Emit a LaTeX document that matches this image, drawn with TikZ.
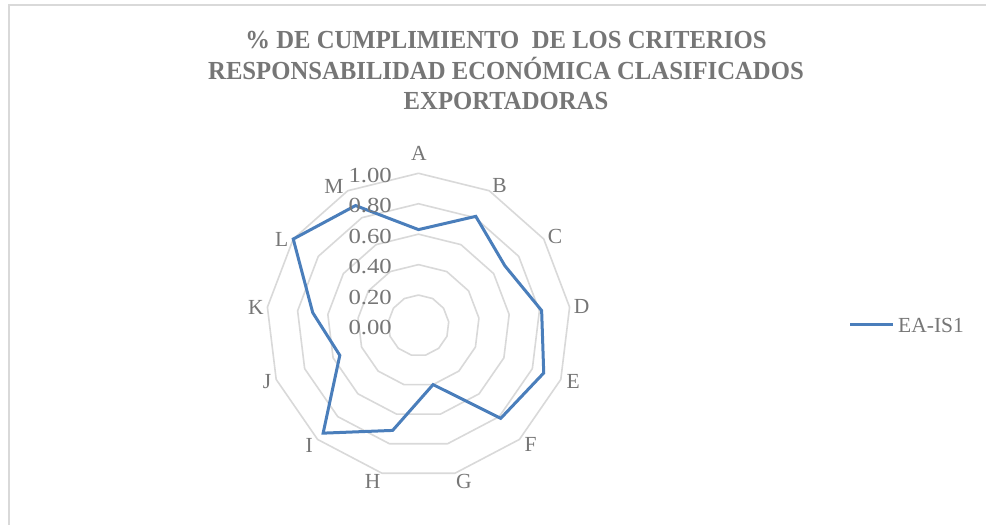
\documentclass[tikz,border=0pt]{standalone}
\usepackage{fontspec}
\setmainfont{Liberation Serif}
\newfontfamily\numfont[FakeStretch=1.15]{Liberation Serif}
\newfontfamily\titfont[FakeStretch=0.95]{Liberation Serif}
\definecolor{txtgray}{RGB}{118,118,118}
\definecolor{gridgray}{RGB}{217,217,217}
\definecolor{seriesblue}{RGB}{74,126,187}
\tikzset{
  gridline/.style={draw=gridgray, line width=1.6pt, line join=round},
  frameline/.style={draw=gridgray, line width=2pt},
  serieslin/.style={draw=seriesblue, line width=3pt, line join=miter},
  axlabel/.style={text=txtgray, inner sep=0pt, font=\fontsize{21.5}{26}\selectfont},
  ticklabel/.style={text=txtgray, inner sep=0pt, anchor=east, font=\numfont\fontsize{21.5}{26}\selectfont},
  titleline/.style={text=txtgray, inner sep=0pt, anchor=base, font=\titfont\fontsize{26}{31}\selectfont\bfseries},
}
\begin{document}
\begin{tikzpicture}[x=1pt,y=1pt]
\useasboundingbox (0,0) rectangle (986,525);
\fill[white] (0,0) rectangle (986,525);
% frame
\draw[frameline] (8.7,0) -- (8.7,520) -- (986,520);
% title
\node[titleline] (t1) at (506,476.7) {\% DE CUMPLIMIENTO\ \ DE LOS CRITERIOS};
\node[titleline] (t2) at (506,445.7) {RESPONSABILIDAD ECONÓMICA CLASIFICADOS};
\node[titleline] (t3) at (506,415) {EXPORTADORAS};
% radar grid
\begin{scope}[shift={(418.5,199.5)}]
  \foreach \v in {0.2,0.4,0.6,0.8,1.0} {
    \draw[gridline] (90:\v*152.2) \foreach \k in {1,...,12} { -- ({90-\k*360/13}:\v*152.2) } -- cycle;
  }
  % data
  \foreach \k/\val in {0/0.63,1/0.81,2/0.69,3/0.815,4/0.88,5/0.815,6/0.40,7/0.71,8/0.945,9/0.553,10/0.70,11/1.0,12/0.89} {
    \coordinate (p\k) at ({90-\k*360/13}:\val*152.2);
  }
  \draw[serieslin] (p0) -- (p1) -- (p2) -- (p3) -- (p4) -- (p5) -- (p6) -- (p7) -- (p8) -- (p9) -- (p10) -- (p11) -- (p12) -- cycle;
\end{scope}
% tick labels
\foreach \v/\t in {0/0.00,0.2/0.20,0.4/0.40,0.6/0.60,0.8/0.80,1.0/1.00} {
  \node[ticklabel] (tk\t) at (392,{197.5+\v*152.2}) {\t};
}
% axis labels
\node[axlabel] (lA) at (419,371.5) {A};
\node[axlabel] (lB) at (499.5,339.5) {B};
\node[axlabel] (lC) at (555,288.3) {C};
\node[axlabel] (lD) at (581.7,218.3) {D};
\node[axlabel] (lE) at (573.3,143.3) {E};
\node[axlabel] (lF) at (530.7,81) {F};
\node[axlabel] (lG) at (464,43.3) {G};
\node[axlabel] (lH) at (372.7,43.3) {H};
\node[axlabel] (lI) at (309.3,80) {I};
\node[axlabel] (lJ) at (267,143) {J};
\node[axlabel] (lK) at (256,217.5) {K};
\node[axlabel] (lL) at (281.7,286) {L};
\node[axlabel] (lM) at (334,339) {M};
% legend
\coordinate (lg1) at (850,200);
\coordinate (lg2) at (893,200);
\draw[serieslin] (lg1) -- (lg2);
\node[axlabel, anchor=west] (lgt) at (898,199.5) {EA-IS1};
\end{tikzpicture}
\end{document}
